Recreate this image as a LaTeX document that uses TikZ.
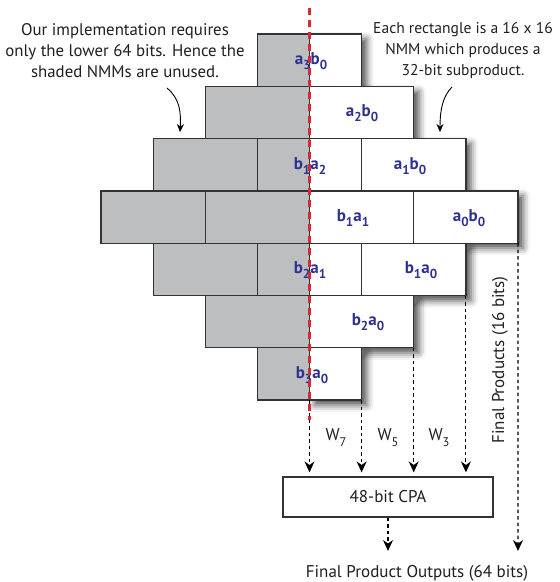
\documentclass[tikz,border=0pt]{standalone}
\usepackage{fontspec}
\setmainfont{PT Sans}
\usetikzlibrary{arrows.meta,shadows.blur}

\definecolor{nmmgray}{HTML}{BCBEC0}
\definecolor{nmmline}{HTML}{333333}
\definecolor{lblblue}{HTML}{2E3192}
\definecolor{cutred}{HTML}{D42A3A}

% subscript in the current font
\newcommand\sbs[1]{\raisebox{-0.32em}{\fontsize{13}{13}\selectfont #1}}
\newcommand\wsb[1]{\raisebox{-0.35em}{\fontsize{12.5}{12.5}\selectfont #1}}

\tikzset{
  nmm/.style={draw=nmmline, line width=1.3pt, minimum width=104.25pt,
    minimum height=52.3pt, inner sep=0pt, outer sep=0pt},
  nmmoff/.style={nmm, fill=nmmgray},
  nmmon/.style={nmm, fill=white},
  nmmhalf/.style={nmm, fill=white, path picture={
      \fill[nmmgray] (path picture bounding box.south west)
        rectangle (path picture bounding box.north);}},
  lbl/.style={text=lblblue, font=\fontsize{17}{17}\selectfont\bfseries, inner sep=0pt},
  note/.style={font=\fontsize{16.8}{21}\selectfont, text=black!88, align=center, inner sep=0pt},
  wlbl/.style={font=\fontsize{17}{17}\selectfont, text=black!88, inner sep=0pt},
  flow/.style={draw=black, line width=1.1pt, dash pattern=on 3.5pt off 3pt,
    -{Stealth[length=11pt,width=10pt]}},
  pointer/.style={draw=black, line width=0.9pt, -{Stealth[length=8pt,width=7pt]}},
  softshadow/.style={blur shadow={shadow xshift=5pt, shadow yshift=-5pt,
      shadow blur radius=7pt, shadow opacity=70}},
}

\begin{document}
\begin{tikzpicture}[x=1pt,y=-1pt]
\useasboundingbox (0,0) rectangle (560,582);

% column edges: 101 + 52.125 k ; row edges: 34 + 52.3 k
% shadows under the used (white) parts
\foreach \xa/\xb/\ya/\yb in {
    309.5/361.6/34/86.3, 309.5/413.8/86.3/138.6, 309.5/465.9/138.6/190.9,
    309.5/518/190.9/243.2, 309.5/465.9/243.2/295.5, 309.5/413.8/295.5/347.8,
    309.5/361.6/347.8/400.1}
  \fill[white, softshadow] (\xa,\ya) rectangle (\xb,\yb);

% row 1
\node[nmmhalf] (r1a) at (309.5,60.15) {};
% row 2
\node[nmmoff] (r2a) at (257.4,112.45) {};
\node[nmmon]  (r2b) at (361.6,112.45) {};
% row 3
\node[nmmoff]  (r3a) at (205.3,164.75) {};
\node[nmmhalf] (r3b) at (309.5,164.75) {};
\node[nmmon]   (r3c) at (413.8,164.75) {};
% row 4
\node[nmmoff] (r4a) at (153.1,217.05) {};
\node[nmmoff] (r4b) at (257.4,217.05) {};
\node[nmmon]  (r4c) at (361.6,217.05) {};
\node[nmmon]  (r4d) at (465.9,217.05) {};
% row 5
\node[nmmoff]  (r5a) at (205.3,269.35) {};
\node[nmmhalf] (r5b) at (309.5,269.35) {};
\node[nmmon]   (r5c) at (413.8,269.35) {};
% row 6
\node[nmmoff] (r6a) at (257.4,321.65) {};
\node[nmmon]  (r6b) at (361.6,321.65) {};
% row 7
\node[nmmhalf] (r7a) at (309.5,373.95) {};

% boundary between unused and used halves
\draw[nmmline, line width=1.3pt] (r1a.north) -- (r7a.south);

% subproduct labels
\node[lbl] (l1)  at (311,61)  {a\sbs{3}b\sbs{0}};
\node[lbl] (l2)  at (362,113) {a\sbs{2}b\sbs{0}};
\node[lbl] (l3)  at (310,166) {b\sbs{1}a\sbs{2}};
\node[lbl] (l4)  at (410,166) {a\sbs{1}b\sbs{0}};
\node[lbl] (l5)  at (353,218) {b\sbs{1}a\sbs{1}};
\node[lbl] (l6)  at (469,218) {a\sbs{0}b\sbs{0}};
\node[lbl] (l7)  at (310,270) {b\sbs{2}a\sbs{1}};
\node[lbl] (l8)  at (421,270) {b\sbs{1}a\sbs{0}};
\node[lbl] (l9)  at (368,322) {b\sbs{2}a\sbs{0}};
\node[lbl] (l10) at (312,375) {b\sbs{3}a\sbs{0}};

% notes
\node[note] (nleft) at (125,51) {Our implementation requires\\only the lower 64 bits. Hence the\\shaded NMMs are unused.};
\node[note, font=\fontsize{15.6}{21}\selectfont] (nright) at (463,51) {Each rectangle is a 16 x 16\\NMM which produces a\\32-bit subproduct.};
\coordinate (pl0) at (167,88);
\coordinate (pl1) at (180,132);
\coordinate (pr0) at (452,87);
\coordinate (pr1) at (440,132);
\draw[pointer] (pl0) .. controls (180,99) and (181,112) .. (pl1);
\draw[pointer] (pr0) .. controls (442,97) and (440,112) .. (pr1);

% carry-propagate adder
\node[draw=nmmline, line width=1.2pt, minimum width=210pt, minimum height=40pt,
  inner sep=0pt, font=\fontsize{17}{17}\selectfont, text=black!88] (cpa) at (388,497) {48-bit CPA};

\draw[flow, shorten >=4pt] (r7a.south) -- (cpa.north -| r7a.south);
\draw[flow, shorten >=4pt] (r7a.south east) -- (cpa.north -| r7a.south east);
\draw[flow, shorten >=4pt] (r6b.south east) -- (cpa.north -| r6b.south east);
\draw[flow, shorten >=4pt] (r5c.south east) -- (cpa.north -| r5c.south east);

\node[wlbl] (w7) at (336,438) {W\wsb{7}};
\node[wlbl] (w5) at (388,438) {W\wsb{5}};
\node[wlbl] (w3) at (439,438) {W\wsb{3}};

% outputs
\coordinate (outend) at (518,551);
\draw[flow] (r4d.south east) -- (outend);
\draw[flow] (cpa.south) -- (cpa.south |- outend);
\node[wlbl, rotate=90] (fp16) at (500,360) {Final Products (16 bits)};
\node[wlbl] (fp64) at (417,573) {Final Product Outputs (64 bits)};

% 64-bit cut line
\coordinate (cuttop) at (309.5,8);
\coordinate (cutbot) at (309.5,420);
\draw[cutred, line width=2.6pt, dash pattern=on 7pt off 5pt] (cuttop) -- (cutbot);
\end{tikzpicture}
\end{document}
